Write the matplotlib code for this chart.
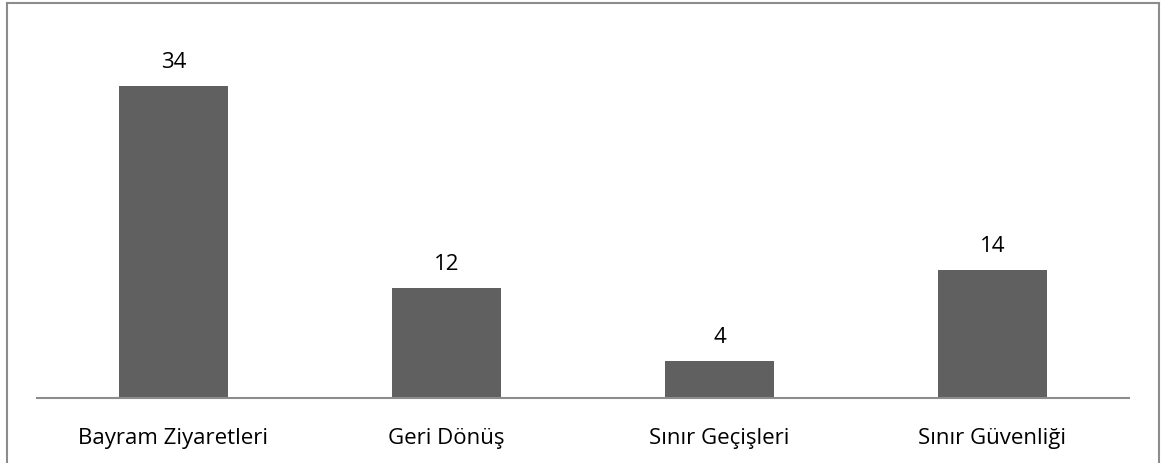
import matplotlib
matplotlib.use("Agg")
import matplotlib.pyplot as plt
from matplotlib.lines import Line2D

categories = ["Bayram Ziyaretleri", "Geri Dönüş", "Sınır Geçişleri", "Sınır Güvenliği"]
values = [34, 12, 4, 14]

W, H = 1171, 464
fig = plt.figure(figsize=(W / 100, H / 100), dpi=100)
plt.rcParams['font.family'] = ['Open Sans', 'DejaVu Sans']

ax = fig.add_axes([37 / W, (H - 399) / H, (1129 - 37) / W, (399 - 32) / H])
x = range(len(categories))
ax.bar(x, values, width=0.4, color="#606060", zorder=2)
ax.set_xlim(-0.5, len(categories) - 0.5)
ax.set_ylim(0, 40)

for xi, v in zip(x, values):
    ax.annotate(str(v), (xi, v), xytext=(0, 10), textcoords="offset points",
                ha="center", va="bottom", fontsize=16, color="#000000")

ax.set_xticks(list(x))
ax.set_xticklabels(categories, fontsize=16)
ax.tick_params(axis="x", length=0, pad=21)
ax.set_yticks([])
for side in ("top", "left", "right"):
    ax.spines[side].set_visible(False)
ax.spines["bottom"].set_color("#8c8c8c")
ax.spines["bottom"].set_linewidth(1.5)

# outer chart frame (open at the bottom edge)
frame_color = "#8c8c8c"
l, r, t = 6.5 / W, 1158.5 / W, 1 - 3.5 / H
fig.add_artist(Line2D([l, l], [0, t], color=frame_color, lw=1.5, transform=fig.transFigure))
fig.add_artist(Line2D([r, r], [0, t], color=frame_color, lw=1.5, transform=fig.transFigure))
fig.add_artist(Line2D([l, r], [t, t], color=frame_color, lw=1.5, transform=fig.transFigure))

fig.savefig("out.png", dpi=100)
